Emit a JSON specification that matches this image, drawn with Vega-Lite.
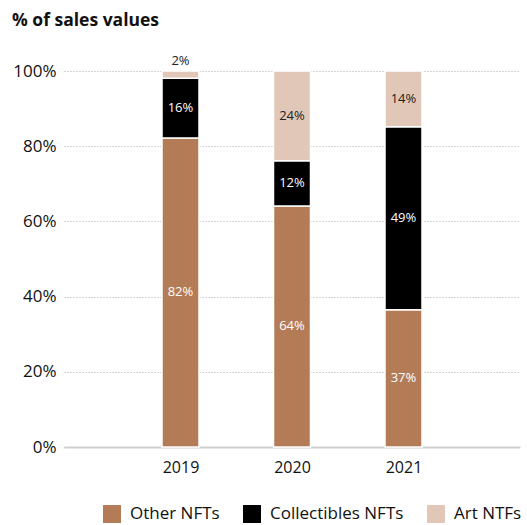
{
  "$schema": "https://vega.github.io/schema/vega-lite/v6.json",
  "width": 456,
  "height": 376,
  "autosize": {"type": "none"},
  "padding": {"left": 64, "top": 71, "right": 7, "bottom": 78},
  "background": "white",
  "title": {"text": "% of sales values", "anchor": "start", "frame": "group", "dx": -52, "fontSize": 17.5, "fontWeight": "bold", "font": "Open Sans", "color": "#111", "offset": 26},
  "config": {"view": {"stroke": null}, "font": "Open Sans"},
  "data": {"values": [
    {"year": 2019, "series": "Other NFTs", "value": 82.2, "label": "82%", "o": 1},
    {"year": 2019, "series": "Collectibles NFTs", "value": 15.9, "label": "16%", "o": 2},
    {"year": 2019, "series": "Art NTFs", "value": 1.9, "label": "2%", "o": 3},
    {"year": 2020, "series": "Other NFTs", "value": 64.1, "label": "64%", "o": 1},
    {"year": 2020, "series": "Collectibles NFTs", "value": 12.0, "label": "12%", "o": 2},
    {"year": 2020, "series": "Art NTFs", "value": 23.9, "label": "24%", "o": 3},
    {"year": 2021, "series": "Other NFTs", "value": 36.5, "label": "37%", "o": 1},
    {"year": 2021, "series": "Collectibles NFTs", "value": 48.7, "label": "49%", "o": 2},
    {"year": 2021, "series": "Art NTFs", "value": 14.8, "label": "14%", "o": 3}
  ]},
  "transform": [
    {"stack": "value", "groupby": ["year"], "sort": [{"field": "o", "order": "ascending"}], "as": ["v0", "v1"]},
    {"calculate": "(datum.v0 + datum.v1) / 2", "as": "mid"}
  ],
  "encoding": {
    "x": {"field": "year", "type": "quantitative",
      "scale": {"domain": [2018, 2022], "nice": false, "zero": false},
      "axis": {"title": null, "values": [2019, 2020, 2021], "format": "d", "grid": false, "ticks": false,
        "labelFontSize": 16, "labelColor": "#111", "labelPadding": 12, "domainColor": "#d0d0d0", "domainWidth": 2}}
  },
  "layer": [
    {
      "mark": {"type": "bar", "size": 37, "stroke": "white", "strokeWidth": 1.5},
      "encoding": {
        "y": {"field": "v0", "type": "quantitative",
          "scale": {"domain": [0, 100], "nice": false},
          "axis": {"title": null, "values": [0, 20, 40, 60, 80, 100], "labelExpr": "datum.value + '%'",
            "domain": false, "ticks": false, "labelPadding": 8, "labelFontSize": 17, "labelColor": "#111",
            "gridDash": [1, 2], "gridColor": "#aaa", "gridWidth": 1}},
        "y2": {"field": "v1"},
        "color": {"field": "series", "type": "nominal",
          "scale": {"domain": ["Other NFTs", "Collectibles NFTs", "Art NTFs"], "range": ["#b47b57", "#000000", "#e0c7b8"]},
          "legend": {"title": null, "orient": "none", "legendX": 39, "legendY": 434, "direction": "horizontal",
            "symbolType": "square", "symbolSize": 324, "symbolStrokeWidth": 0, "symbolOpacity": 1,
            "labelFontSize": 17, "labelColor": "#111", "labelOffset": 9, "columnPadding": 23}}
      }
    },
    {
      "transform": [{"filter": "datum.value >= 5"}],
      "mark": {"type": "text", "fontSize": 13, "baseline": "middle", "align": "center"},
      "encoding": {
        "y": {"field": "mid", "type": "quantitative"},
        "text": {"field": "label"},
        "color": {"condition": {"test": "datum.series === 'Art NTFs'", "value": "#222"}, "value": "white"}
      }
    },
    {
      "transform": [{"filter": "datum.value < 5"}],
      "mark": {"type": "text", "fontSize": 13, "baseline": "middle", "align": "center", "dy": -10, "color": "#222"},
      "encoding": {
        "y": {"field": "v1", "type": "quantitative"},
        "text": {"field": "label"}
      }
    }
  ]
}
